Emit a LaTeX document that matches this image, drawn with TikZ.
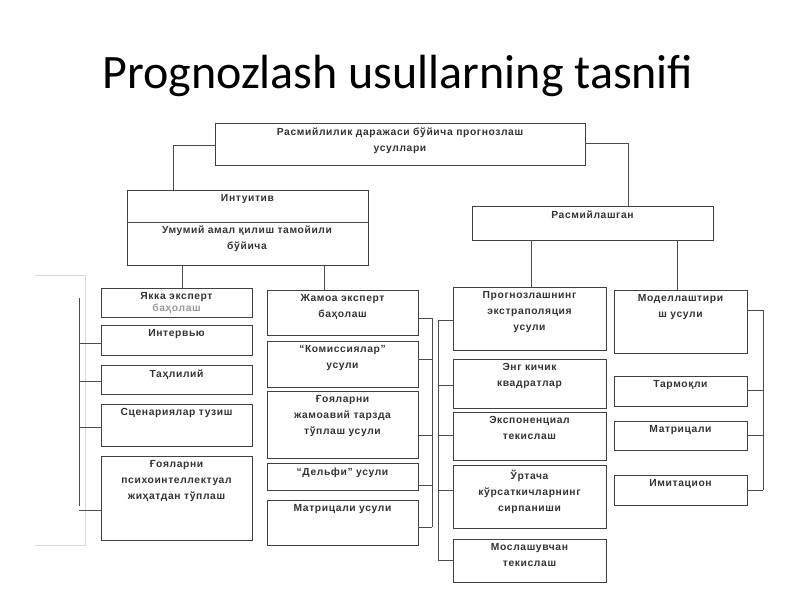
\documentclass[tikz,border=0pt]{standalone}
\usepackage{fontspec}
\setmainfont{Liberation Sans}[LetterSpace=6]
\newfontfamily\titlefont{Carlito}
\begin{document}
\begin{tikzpicture}[x=1pt,y=-1pt,
  box/.style={draw=black!75,line width=0.9pt,rectangle,inner sep=0pt},
  txt/.style={font=\fontsize{10.3}{16}\selectfont\bfseries,text=black!80,align=center,inner sep=0pt,anchor=north},
  ln/.style={draw=black!70,line width=0.8pt}]
\useasboundingbox (0,0) rectangle (800,600);
\newcommand{\bx}[6]{\node[box,minimum width={#4-#2},minimum height={#5-#3}] (#1) at ({(#2+#4)/2},{(#3+#5)/2}) {};
  \node[txt] (#1t) at ([yshift=-5]#1.north) {#6};}
\node[font=\titlefont\fontsize{48}{56}\selectfont] (title) at (398,76) {Prognozlash usullarning tasnifi};
\bx{top}{215}{123}{585}{165}{Расмийлилик даражаси бўйича прогнозлаш\\усуллари}
\bx{int}{127}{190}{368}{265}{Интуитив}
\draw[ln] (int.west |- 0,222) -- (int.east |- 0,222);
\node[txt] (int2) at (247,226) {Умумий амал қилиш тамойили\\бўйича};
\bx{ras}{472}{206}{713}{240}{Расмийлашган}
% col1
\bx{a1}{101}{288}{252}{317}{Якка эксперт\\[-4pt]\textcolor{black!40}{баҳолаш}}
\bx{a2}{101}{325}{252}{355}{Интервью}
\bx{a3}{101}{365}{252}{394}{Таҳлилий}
\bx{a4}{101}{404}{252}{446}{Сценариялар тузиш}
\bx{a5}{101}{456}{252}{540}{Ғояларни\\психоинтеллектуал\\жиҳатдан тўплаш}
% col2
\bx{b1}{267}{290}{418}{335}{Жамоа эксперт\\баҳолаш}
\bx{b2}{267}{341}{418}{387}{“Комиссиялар”\\усули}
\bx{b3}{267}{391}{418}{458}{Ғояларни\\жамоавий тарзда\\тўплаш усули}
\bx{b4}{267}{463}{418}{490}{“Дельфи” усули}
\bx{b5}{267}{500}{418}{545}{Матрицали усули}
% col3
\bx{c1}{453}{287}{606}{350}{Прогнозлашнинг\\экстраполяция\\усули}
\bx{c2}{453}{359}{606}{408}{Энг кичик\\квадратлар}
\bx{c3}{453}{412}{606}{460}{Экспоненциал\\текислаш}
\bx{c4}{453}{465}{606}{528}{Ўртача\\кўрсаткичларнинг\\сирпаниши}
\bx{c5}{453}{539}{606}{582}{Мослашувчан\\текислаш}
% col4
\bx{d1}{614}{290}{747}{353}{Моделлаштири\\ш усули}
\bx{d2}{614}{376}{747}{406}{Тармоқли}
\bx{d3}{614}{421}{747}{450}{Матрицали}
\bx{d4}{614}{475}{747}{505}{Имитацион}
% faint frame
\draw[black!15,line width=0.8pt] (35,275) -- (85,275) -- (85,545) -- (35,545);
% tree
\draw[ln] (top.west |- 0,145) -| (173,190);
\draw[ln] (top.east |- 0,143) -| (628,206);
\draw[ln] (182,265) -- (182,288);
\draw[ln] (324,265) -- (324,290);
\draw[ln] (531,240) -- (531,287);
\draw[ln] (677,240) -- (677,290);
% col1 bracket
\draw[ln] (79,298) -- (79,506);
\foreach \n/\y in {a2/343,a3/381,a4/427,a5/510}{\draw[ln] (79,\y) -- (\n.west |- 0,\y);}
% col2 bracket
\draw[ln] (432,318) -- (432,527);
\foreach \n/\y in {b1/318,b2/359,b3/435,b4/485,b5/527}{\draw[ln] (\n.east |- 0,\y) -- (432,\y);}
% col3 bracket
\draw[ln] (438,320) -- (438,560);
\foreach \n/\y in {c1/320,c2/385,c3/435,c4/490,c5/560}{\draw[ln] (438,\y) -- (\n.west |- 0,\y);}
% col4 bracket
\draw[ln] (763,310) -- (763,490);
\foreach \n/\y in {d1/310,d2/390,d3/435,d4/490}{\draw[ln] (\n.east |- 0,\y) -- (763,\y);}
\end{tikzpicture}
\end{document}
